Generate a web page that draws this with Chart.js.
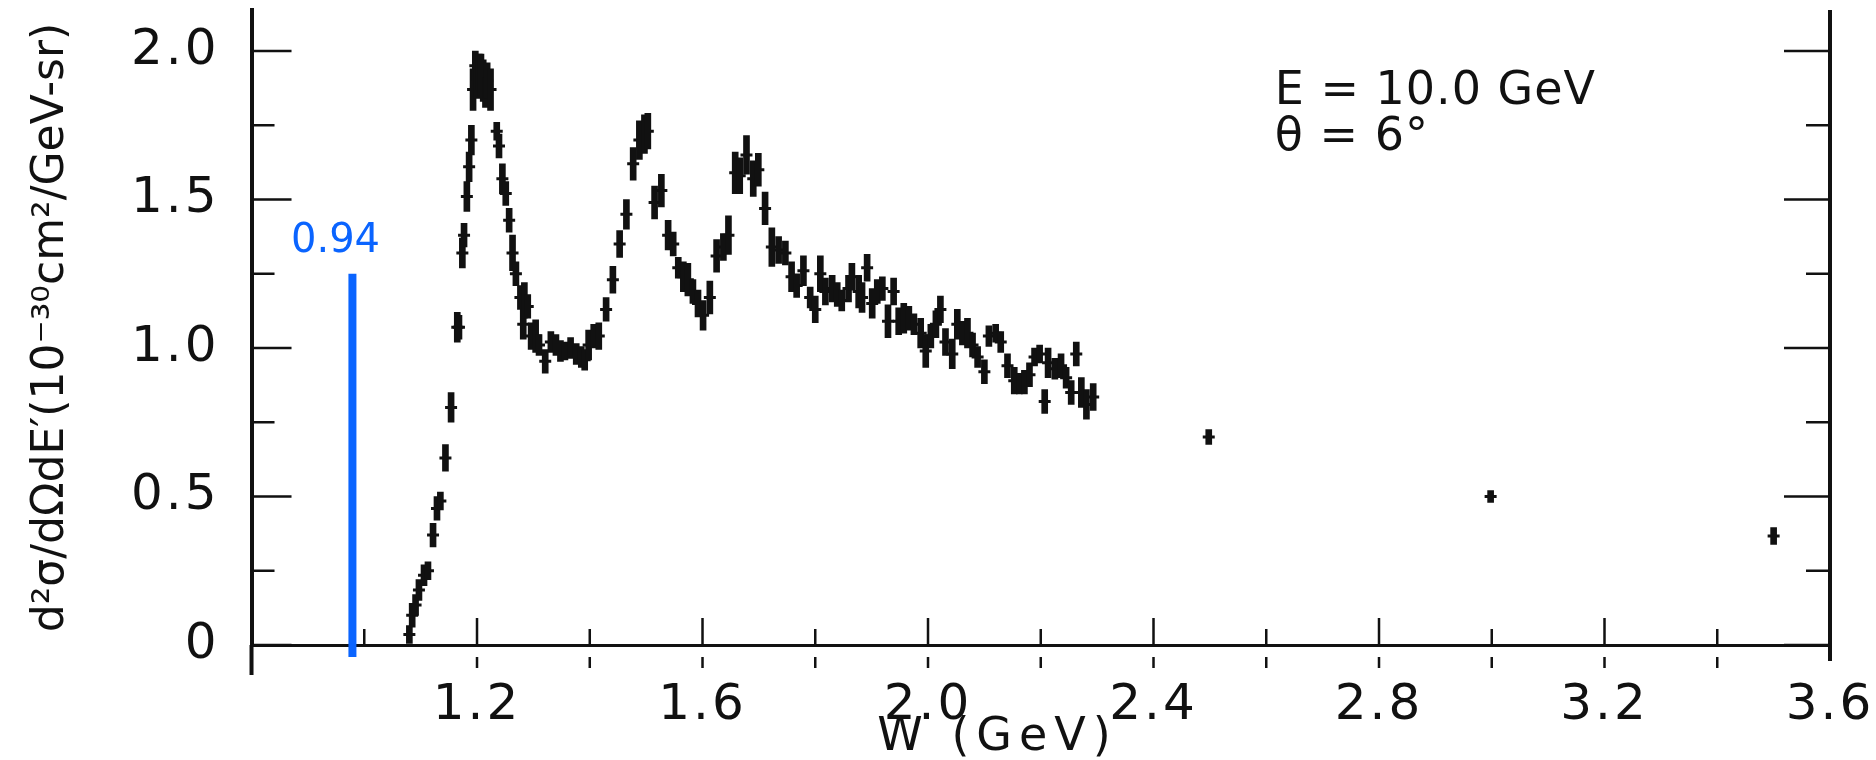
<!DOCTYPE html>
<html>
<head>
<meta charset="utf-8">
<script src="https://cdn.jsdelivr.net/npm/chart.js@4.4.1/dist/chart.umd.min.js"></script>
<style>
  html, body { margin: 0; padding: 0; background: #fff; }
  #wrap { width: 1876px; height: 760px; position: relative; }
</style>
</head>
<body>
<div id="wrap"><canvas id="chartW"></canvas></div>
<script>
// W (GeV), cross section and error
const wValues = [
  1.080, 1.085, 1.091, 1.097, 1.106, 1.113, 1.122, 1.129, 1.135, 1.144,
  1.154, 1.165, 1.168, 1.174, 1.177, 1.182, 1.186, 1.190, 1.193, 1.197,
  1.200, 1.204, 1.207, 1.211, 1.215, 1.218, 1.224, 1.235, 1.239, 1.245,
  1.251, 1.257, 1.263, 1.269, 1.277, 1.282, 1.284, 1.290, 1.296, 1.304,
  1.310, 1.321, 1.331, 1.340, 1.348, 1.356, 1.366, 1.376, 1.385, 1.391,
  1.398, 1.407, 1.416, 1.429, 1.441, 1.453, 1.465, 1.477, 1.488, 1.497,
  1.503, 1.515, 1.527, 1.539, 1.548, 1.557, 1.566, 1.574, 1.583, 1.592,
  1.601, 1.613, 1.625, 1.637, 1.646, 1.658, 1.666, 1.678, 1.690, 1.699,
  1.711, 1.723, 1.735, 1.747, 1.758, 1.767, 1.779, 1.791, 1.800, 1.809,
  1.818, 1.830, 1.839, 1.847, 1.859, 1.865, 1.877, 1.883, 1.892, 1.901,
  1.910, 1.919, 1.929, 1.939, 1.948, 1.957, 1.966, 1.975, 1.987, 1.996,
  2.005, 2.014, 2.022, 2.031, 2.043, 2.052, 2.061, 2.070, 2.079, 2.088,
  2.100, 2.108, 2.120, 2.129, 2.141, 2.153, 2.162, 2.171, 2.180, 2.189,
  2.198, 2.207, 2.213, 2.225, 2.236, 2.245, 2.254, 2.263, 2.272, 2.281,
  2.293, 2.498, 2.998, 3.500
];
const sigmaValues = [
  0.035, 0.10, 0.135, 0.185, 0.235, 0.25, 0.37, 0.46, 0.485, 0.63,
  0.80, 1.07, 1.07, 1.32, 1.38, 1.51, 1.61, 1.70, 1.87, 1.95,
  1.90, 1.93, 1.92, 1.90, 1.86, 1.90, 1.87, 1.73, 1.68, 1.57,
  1.52, 1.43, 1.32, 1.25, 1.17, 1.08, 1.16, 1.14, 1.04, 1.04,
  1.01, 0.955, 1.02, 1.01, 0.99, 0.99, 1.00, 0.98, 0.97, 0.96,
  1.01, 1.04, 1.04, 1.13, 1.23, 1.35, 1.45, 1.62, 1.70, 1.72,
  1.73, 1.49, 1.53, 1.38, 1.35, 1.27, 1.24, 1.23, 1.19, 1.15,
  1.11, 1.17, 1.31, 1.34, 1.38, 1.59, 1.58, 1.65, 1.57, 1.60,
  1.47, 1.34, 1.33, 1.32, 1.24, 1.21, 1.26, 1.17, 1.13, 1.25,
  1.19, 1.20, 1.18, 1.16, 1.20, 1.24, 1.19, 1.17, 1.27, 1.15,
  1.19, 1.20, 1.09, 1.19, 1.09, 1.10, 1.10, 1.08, 1.05, 0.99,
  1.04, 1.08, 1.13, 1.02, 0.98, 1.08, 1.05, 1.05, 1.01, 0.97,
  0.92, 1.04, 1.05, 1.02, 0.94, 0.89, 0.88, 0.885, 0.91, 0.97,
  0.98, 0.82, 0.95, 0.93, 0.94, 0.90, 0.85, 0.98, 0.85, 0.81,
  0.835, 0.70, 0.50, 0.367
];
const sigmaErrors = [
  0.03, 0.04, 0.035, 0.035, 0.035, 0.03, 0.04, 0.04, 0.03, 0.045,
  0.05, 0.05, 0.04, 0.05, 0.04, 0.05, 0.05, 0.05, 0.07, 0.05,
  0.06, 0.06, 0.07, 0.07, 0.05, 0.06, 0.07, 0.03, 0.04, 0.05,
  0.04, 0.04, 0.06, 0.04, 0.04, 0.05, 0.06, 0.04, 0.045, 0.055,
  0.035, 0.04, 0.035, 0.035, 0.035, 0.03, 0.035, 0.035, 0.035, 0.035,
  0.05, 0.04, 0.045, 0.04, 0.045, 0.045, 0.05, 0.055, 0.065, 0.065,
  0.06, 0.055, 0.055, 0.05, 0.04, 0.035, 0.05, 0.055, 0.04, 0.045,
  0.05, 0.055, 0.055, 0.045, 0.065, 0.07, 0.06, 0.065, 0.06, 0.055,
  0.055, 0.065, 0.045, 0.04, 0.05, 0.04, 0.05, 0.035, 0.045, 0.06,
  0.045, 0.045, 0.04, 0.035, 0.045, 0.045, 0.055, 0.05, 0.045, 0.05,
  0.04, 0.04, 0.055, 0.045, 0.045, 0.05, 0.04, 0.035, 0.05, 0.055,
  0.04, 0.045, 0.045, 0.045, 0.05, 0.05, 0.04, 0.05, 0.04, 0.035,
  0.04, 0.035, 0.03, 0.035, 0.04, 0.045, 0.035, 0.04, 0.04, 0.03,
  0.03, 0.04, 0.05, 0.035, 0.04, 0.035, 0.04, 0.04, 0.05, 0.05,
  0.045, 0.025, 0.02, 0.028
];

const xTickValues = [0.8, 1.0, 1.2, 1.4, 1.6, 1.8, 2.0, 2.2, 2.4, 2.6, 2.8, 3.0, 3.2, 3.4, 3.6];
const xLabelValues = [1.2, 1.6, 2.0, 2.4, 2.8, 3.2, 3.6];
const yTickValues = [0, 0.25, 0.5, 0.75, 1.0, 1.25, 1.5, 1.75, 2.0];
const yLabelValues = [0, 0.5, 1.0, 1.5, 2.0];

// blue marker added on top of the scan
const markerW = 0.979;
const markerRange = [1.25, -0.04];
const markerText = "0.94";
const noteLines = ["E = 10.0 GeV", "θ = 6°"];

const INK = "#111";
const BLUE = "#0a64ff";

const isIn = (v, list) => list.some((m) => Math.abs(m - v) < 1e-6);

// the scanned lettering is wider than the installed fonts, so space it out a bit
const baseDrawTitle = Chart.Scale.prototype.drawTitle;
Chart.Scale.prototype.drawTitle = function () {
  this.ctx.save();
  this.ctx.letterSpacing = this.axis === "x" ? "7px" : "0px";
  baseDrawTitle.call(this);
  this.ctx.restore();
};
const baseDrawLabels = Chart.Scale.prototype.drawLabels;
Chart.Scale.prototype.drawLabels = function (area) {
  this.ctx.save();
  this.ctx.letterSpacing = "3px";
  baseDrawLabels.call(this, area);
  this.ctx.restore();
};

const frameTicks = {
  id: "frameTicks",
  afterDraw(chart) {
    const { ctx, chartArea: area, scales: { x, y } } = chart;
    const y0 = y.getPixelForValue(0);
    ctx.save();
    ctx.strokeStyle = INK;
    ctx.lineWidth = 4;
    ctx.beginPath();
    ctx.moveTo(area.right, area.top);
    ctx.lineTo(area.right, y0 + 16);
    ctx.moveTo(area.left, y0);
    ctx.lineTo(area.left, y0 + 30);
    ctx.stroke();

    ctx.lineWidth = 2.5;
    y.ticks.forEach((t) => {
      const py = y.getPixelForValue(t.value);
      const major = isIn(t.value, yLabelValues);
      ctx.beginPath();
      ctx.moveTo(area.left, py);
      ctx.lineTo(area.left + (major ? 40 : 23), py);
      ctx.moveTo(area.right, py);
      ctx.lineTo(area.right - (major ? 46 : 24), py);
      ctx.stroke();
    });
    x.ticks.forEach((t) => {
      if (t.value <= x.min + 1e-6 || t.value >= x.max - 1e-6) return;
      const px = x.getPixelForValue(t.value);
      const major = isIn(t.value, xLabelValues);
      ctx.beginPath();
      ctx.moveTo(px, y0);
      ctx.lineTo(px, y0 - (major ? 27 : 16));
      if (t.value > 1.1) {
        ctx.moveTo(px, y0 + 12);
        ctx.lineTo(px, y0 + 23);
      }
      ctx.stroke();
    });

    // E / theta note
    ctx.fillStyle = INK;
    ctx.font = "46px 'DejaVu Sans'";
    ctx.letterSpacing = "1px";
    ctx.textAlign = "left";
    ctx.textBaseline = "alphabetic";
    ctx.fillText(noteLines[0], x.getPixelForValue(2.615), y.getPixelForValue(1.82));
    ctx.fillText(noteLines[1], x.getPixelForValue(2.615), y.getPixelForValue(1.667));

    // blue marker label
    ctx.letterSpacing = "0px";
    ctx.fillStyle = BLUE;
    ctx.font = "40px 'DejaVu Sans'";
    ctx.textAlign = "center";
    ctx.fillText(markerText, x.getPixelForValue(0.949), y.getPixelForValue(1.323));
    ctx.restore();
  },
};

const ctx = document.getElementById("chartW").getContext("2d");
const chartW = new Chart(ctx, {
  type: "bar",
  data: {
    datasets: [
      {
        type: "bar",
        data: wValues.map((w, i) => ({
          x: w,
          y: [sigmaValues[i] - sigmaErrors[i], sigmaValues[i] + sigmaErrors[i]],
        })),
        backgroundColor: INK,
        borderWidth: 0,
        barThickness: 6,
        grouped: false,
      },
      {
        type: "scatter",
        data: wValues.map((w, i) => ({ x: w, y: sigmaValues[i] })),
        pointStyle: "line",
        pointRadius: 6,
        borderColor: INK,
        borderWidth: 3,
        showLine: false,
      },
      {
        type: "line",
        data: [
          { x: markerW, y: markerRange[0] },
          { x: markerW, y: markerRange[1] },
        ],
        borderColor: BLUE,
        borderWidth: 8,
        pointRadius: 0,
        clip: false,
      },
    ],
  },
  options: {
    responsive: true,
    maintainAspectRatio: false,
    animation: false,
    layout: { padding: { top: 10, right: 46, left: 0, bottom: 0 } },
    plugins: { legend: { display: false }, tooltip: { enabled: false } },
    scales: {
      x: {
        type: "linear",
        offset: false,
        min: 0.8,
        max: 3.6,
        afterBuildTicks: (scale) => {
          scale.ticks = xTickValues.map((v) => ({ value: v }));
        },
        grid: { display: false, offset: false, drawTicks: true, tickLength: 36 },
        border: { display: true, color: INK, width: 3 },
        ticks: {
          autoSkip: false,
          maxRotation: 0,
          padding: 0,
          color: INK,
          font: { family: "DejaVu Sans", size: 50, lineHeight: 1 },
          callback: (v) => (isIn(v, xLabelValues) ? v.toFixed(1) : ""),
        },
        title: {
          display: true,
          text: "W (GeV)\u00a0\u00a0\u00a0\u00a0",
          color: INK,
          font: { family: "DejaVu Sans", size: 46, lineHeight: 1 },
          padding: { top: -16, bottom: -1 },
        },
      },
      y: {
        min: 0,
        max: 2.138,
        afterBuildTicks: (scale) => {
          scale.ticks = yTickValues.map((v) => ({ value: v }));
        },
        grid: { display: false, drawTicks: true, tickLength: 32 },
        border: { display: true, color: INK, width: 4 },
        ticks: {
          autoSkip: false,
          padding: 0,
          color: INK,
          font: { family: "DejaVu Sans", size: 50, lineHeight: 0.4 },
          callback: (v) => (isIn(v, yLabelValues) ? (v === 0 ? "0" : v.toFixed(1)) : ""),
        },
        title: {
          display: true,
          text: "d²σ/dΩdE′(10⁻³⁰cm²/GeV-sr)",
          color: INK,
          font: { family: "DejaVu Sans", size: 44, lineHeight: 1 },
          padding: { top: 30, bottom: 66 },
        },
      },
    },
  },
  plugins: [frameTicks],
});
</script>
</body>
</html>
